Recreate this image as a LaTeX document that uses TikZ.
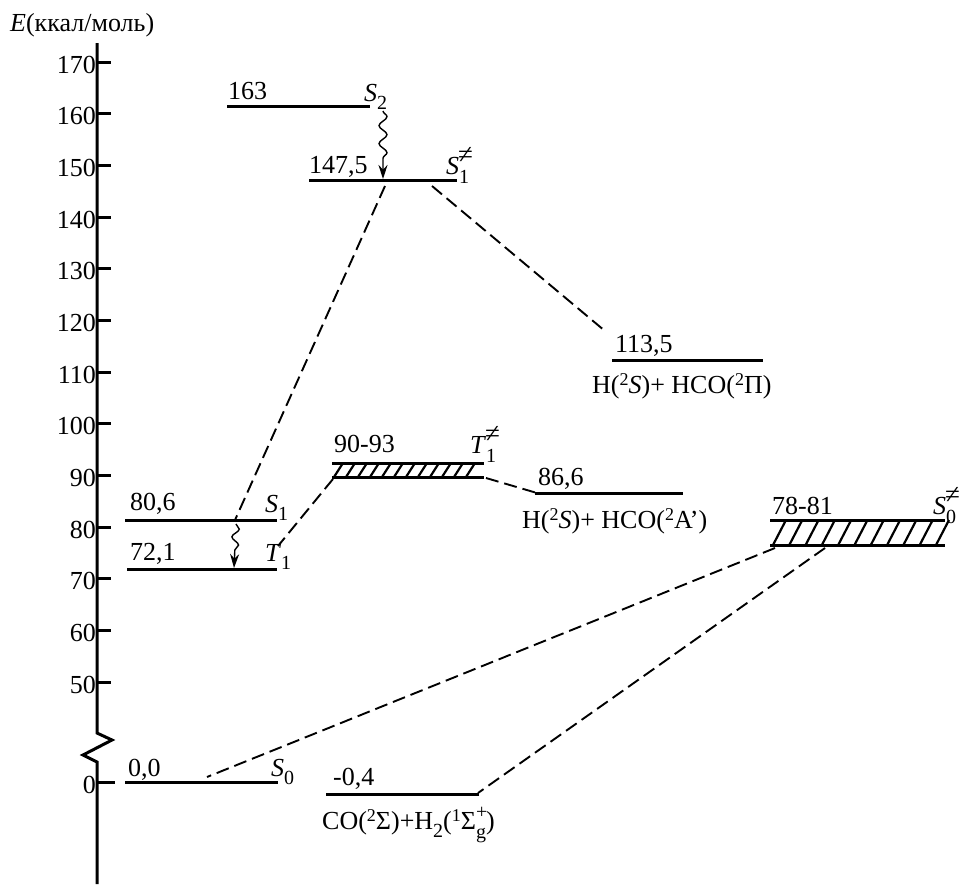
\documentclass[tikz,border=0pt]{standalone}
\usepackage{fontspec}
\setmainfont{Liberation Serif}
\usetikzlibrary{decorations.pathmorphing,arrows.meta}
\newcommand\mysupsub[3][0.5em]{{\fontsize{20}{20}\selectfont\rlap{\raisebox{11pt}{#2}}\rlap{\raisebox{-9pt}{#3}}\hspace{#1}}}
\newcommand\myne{{\fontsize{27}{27}\selectfont\kern-1pt ≠}}
\newcommand\mylow[1]{{\fontsize{20}{20}\selectfont\raisebox{-8pt}{#1}}}
\newcommand\myup[1]{{\fontsize{18}{18}\selectfont\raisebox{8pt}{#1}}}
\begin{document}
\begin{tikzpicture}[x=1pt,y=-1pt,
  lvl/.style={line width=3pt},
  conn/.style={line width=1.9pt,dash pattern=on 13pt off 6pt},
  hatch/.style={line width=2.2pt},
  wav/.style={line width=1.4pt,decorate,decoration={snake,amplitude=4pt,segment length=18pt,post length=13pt},-{Stealth[length=14pt,width=9pt]}},
  txt/.style={font=\fontsize{26}{30}\selectfont,inner sep=0pt,anchor=base west},
  axlab/.style={font=\fontsize{26}{30}\selectfont,inner sep=0pt,anchor=base east}]
\useasboundingbox (0,0) rectangle (971,884);
% axis
\draw[line width=3pt,line join=miter] (97,43) -- (97,733) -- (112,740) -- (83,755) -- (97,762) -- (97,884);
\node[txt] (elab) at (10,31) {\textit{E}(ккал/моль)};
\foreach \v/\yy in {170/62,160/113.7,150/165.3,140/217,130/268.7,120/320.3,110/372,100/423.7,90/475.3,80/527,70/578.7,60/630.3,50/682}{
  \draw[line width=3pt] (97,\yy) -- (111,\yy);
  \node[axlab] (t\v) at (96,\yy+11) {\v};
}
\draw[line width=3pt] (97,782) -- (115,782);
\node[axlab] (t0) at (96,793) {0};
% levels
\coordinate (s2a) at (227,106); \coordinate (s2b) at (370,106);
\coordinate (s1ta) at (309,180); \coordinate (s1tb) at (457,180);
\coordinate (pa) at (612,360); \coordinate (pb) at (763,360);
\coordinate (qa) at (535,493); \coordinate (qb) at (683,493);
\coordinate (s1a) at (125,520); \coordinate (s1b) at (277,520);
\coordinate (t1a) at (127,569); \coordinate (t1b) at (277,569);
\coordinate (s0a) at (125,782); \coordinate (s0b) at (278,782);
\coordinate (ra) at (326,794); \coordinate (rb) at (479,794);
\foreach \a/\b in {s2a/s2b,s1ta/s1tb,pa/pb,qa/qb,s1a/s1b,t1a/t1b,s0a/s0b,ra/rb}{\draw[lvl] (\a) -- (\b);}
% hatched T1 TS
\draw[lvl] (332,463) -- (484,463);
\draw[lvl] (332,477) -- (484,477);
\foreach \i in {0,...,11}{\draw[hatch] (334+12*\i,477) -- (343+12*\i,463);}
% hatched S0 TS
\draw[lvl] (770,520) -- (945,520);
\draw[lvl] (770,545) -- (945,545);
\foreach \i in {0,...,10}{\draw[hatch] (773+16.3*\i,545) -- (786+16.3*\i,520);}
% dashed connectors
\coordinate (c1a) at (385,186); \coordinate (c1b) at (235,520);
\coordinate (c2a) at (432,186); \coordinate (c2b) at (605,331);
\coordinate (c3a) at (486,478); \coordinate (c3b) at (537,493);
\coordinate (c4a) at (333,479); \coordinate (c4b) at (278,546);
\coordinate (c5a) at (775,548); \coordinate (c5b) at (207,777);
\coordinate (c6a) at (825,548); \coordinate (c6b) at (478,793);
\foreach \a/\b in {c1a/c1b,c2a/c2b,c3a/c3b,c4a/c4b,c5a/c5b,c6a/c6b}{\draw[conn] (\a) -- (\b);}
% wavy arrows
\coordinate (w1a) at (383,111); \coordinate (w1b) at (383,179);
\coordinate (w2a) at (236,524); \coordinate (w2b) at (234,568);
\draw[wav] (w1a) -- (w1b);
\draw[wav,decoration={snake,amplitude=3.5pt,segment length=16pt,post length=13pt}] (w2a) -- (w2b);
% labels
\node[txt] (l163) at (228,99) {163};
\node[txt] (ls2) at (364,101) {\textit{S}\mylow{2}};
\node[txt] (l147) at (309,173) {147,5};
\node[txt] (ls1t) at (446,174) {\textit{S}\mysupsub[0.6em]{\myne}{1}};
\node[txt] (l113) at (615,352) {113,5};
\node[txt] (lp1) at (592,393) {H(\myup{2}\textit{S})+ HCO(\myup{2}Π)};
\node[txt] (l90) at (334,452) {90-93};
\node[txt] (lt1t) at (470,453) {\textit{T}\mysupsub[0.6em]{\myne}{1}};
\node[txt] (l86) at (538,485) {86,6};
\node[txt] (lp2) at (522,528) {H(\myup{2}\textit{S})+ HCO(\myup{2}A')};
\node[txt] (l78) at (772,514) {78-81};
\node[txt] (ls0t) at (933,514) {\textit{S}\mysupsub[0.6em]{\myne}{0}};
\node[txt] (l80) at (130,510) {80,6};
\node[txt] (ls1) at (265,512) {\textit{S}\mylow{1}};
\node[txt] (l72) at (130,560) {72,1};
\node[txt] (lt1) at (265,561) {\textit{T}\mylow{1}};
\node[txt] (l00) at (128,776) {0,0};
\node[txt] (ls0) at (271,776) {\textit{S}\mylow{0}};
\node[txt] (l04) at (333,785) {-0,4};
\node[txt] (lp3) at (322,829) {CO(\myup{2}Σ)+H\mylow{2}(\myup{1}Σ\mysupsub{+}{g})};
\end{tikzpicture}
\end{document}
